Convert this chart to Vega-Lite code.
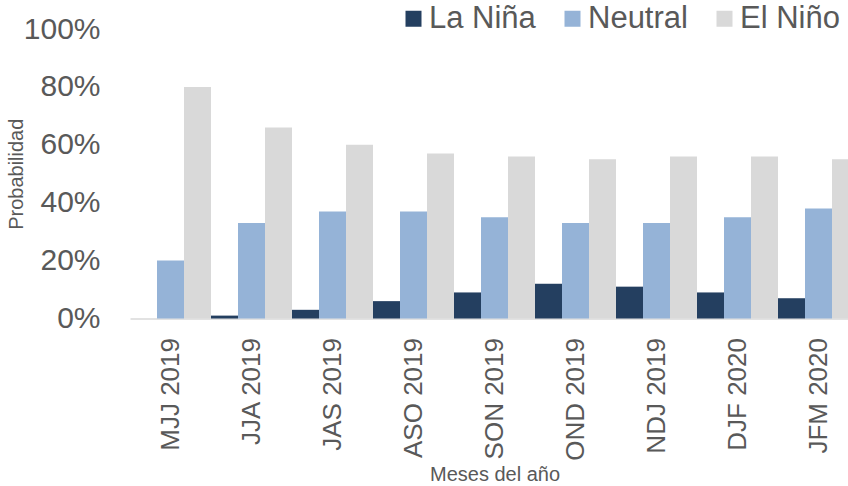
{
  "$schema": "https://vega.github.io/schema/vega-lite/v6.json",
  "width": 718,
  "height": 289.5,
  "autosize": {"type": "none"},
  "padding": {"left": 130, "top": 29, "right": 0, "bottom": 167.5},
  "background": "white",
  "config": {
    "view": {"stroke": null},
    "font": "Liberation Sans"
  },
  "data": {
    "values": [
      {"mes": "MJJ 2019", "fase": "La Niña", "p": 0.0},
      {"mes": "MJJ 2019", "fase": "Neutral", "p": 0.20},
      {"mes": "MJJ 2019", "fase": "El Niño", "p": 0.80},
      {"mes": "JJA 2019", "fase": "La Niña", "p": 0.01},
      {"mes": "JJA 2019", "fase": "Neutral", "p": 0.33},
      {"mes": "JJA 2019", "fase": "El Niño", "p": 0.66},
      {"mes": "JAS 2019", "fase": "La Niña", "p": 0.03},
      {"mes": "JAS 2019", "fase": "Neutral", "p": 0.37},
      {"mes": "JAS 2019", "fase": "El Niño", "p": 0.60},
      {"mes": "ASO 2019", "fase": "La Niña", "p": 0.06},
      {"mes": "ASO 2019", "fase": "Neutral", "p": 0.37},
      {"mes": "ASO 2019", "fase": "El Niño", "p": 0.57},
      {"mes": "SON 2019", "fase": "La Niña", "p": 0.09},
      {"mes": "SON 2019", "fase": "Neutral", "p": 0.35},
      {"mes": "SON 2019", "fase": "El Niño", "p": 0.56},
      {"mes": "OND 2019", "fase": "La Niña", "p": 0.12},
      {"mes": "OND 2019", "fase": "Neutral", "p": 0.33},
      {"mes": "OND 2019", "fase": "El Niño", "p": 0.55},
      {"mes": "NDJ 2019", "fase": "La Niña", "p": 0.11},
      {"mes": "NDJ 2019", "fase": "Neutral", "p": 0.33},
      {"mes": "NDJ 2019", "fase": "El Niño", "p": 0.56},
      {"mes": "DJF 2020", "fase": "La Niña", "p": 0.09},
      {"mes": "DJF 2020", "fase": "Neutral", "p": 0.35},
      {"mes": "DJF 2020", "fase": "El Niño", "p": 0.56},
      {"mes": "JFM 2020", "fase": "La Niña", "p": 0.07},
      {"mes": "JFM 2020", "fase": "Neutral", "p": 0.38},
      {"mes": "JFM 2020", "fase": "El Niño", "p": 0.55}
    ]
  },
  "mark": {"type": "bar"},
  "encoding": {
    "x": {
      "field": "mes",
      "type": "nominal",
      "sort": null,
      "scale": {"range": [0, 729], "paddingInner": 0, "paddingOuter": 0},
      "axis": {
        "title": "Meses del año",
        "titleFont": "Liberation Sans",
        "titleFontSize": 20,
        "titleFontWeight": "normal",
        "titleColor": "#595959",
        "titlePadding": 4,
        "labelAngle": -90,
        "labelFontSize": 26,
        "labelColor": "#595959",
        "labelPadding": 19,
        "ticks": false,
        "domainColor": "#D9D9D9",
        "domainWidth": 1.5,
        "grid": false
      }
    },
    "xOffset": {
      "field": "fase",
      "type": "nominal",
      "sort": ["La Niña", "Neutral", "El Niño"],
      "scale": {"paddingInner": 0, "paddingOuter": 0}
    },
    "y": {
      "field": "p",
      "type": "quantitative",
      "scale": {"domain": [0, 1], "nice": false},
      "axis": {
        "title": "Probabilidad",
        "titleFont": "Liberation Sans",
        "titleFontSize": 20,
        "titleFontWeight": "normal",
        "titleColor": "#595959",
        "titlePadding": -3,
        "format": ".0%",
        "values": [0, 0.2, 0.4, 0.6, 0.8, 1],
        "labelFontSize": 30,
        "labelColor": "#595959",
        "labelPadding": 30,
        "ticks": false,
        "domain": false,
        "grid": false
      }
    },
    "color": {
      "field": "fase",
      "type": "nominal",
      "sort": ["La Niña", "Neutral", "El Niño"],
      "scale": {"domain": ["La Niña", "Neutral", "El Niño"], "range": ["#243F60", "#95B3D7", "#D9D9D9"]},
      "legend": {
        "title": null,
        "orient": "none",
        "direction": "horizontal",
        "legendX": 268,
        "legendY": -26,
        "symbolType": "square",
        "symbolSize": 256,
        "symbolStrokeWidth": 0,
        "labelFontSize": 31,
        "labelColor": "#595959",
        "labelOffset": 0,
        "columnPadding": 21
      }
    }
  }
}
